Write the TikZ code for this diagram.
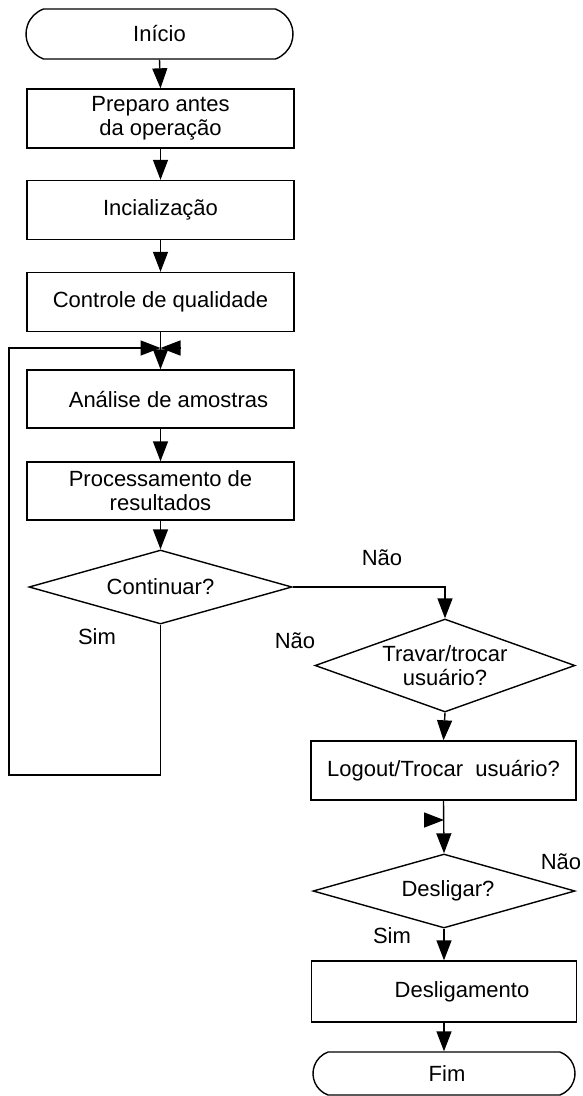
\documentclass[tikz,border=0pt]{standalone}
\usepackage{fontspec}
\setmainfont{Liberation Sans}
\usetikzlibrary{shapes.geometric,shapes.misc,arrows.meta}
\tikzset{
  base/.style={draw=black, line width=1.4pt, inner sep=0pt, align=center,
    font=\fontsize{22}{24}\selectfont},
  procbox/.style={base, rectangle, minimum width=267pt, minimum height=59pt},
  rbox/.style={base, rectangle, minimum width=265pt, minimum height=59pt},
  term/.style={base, rounded rectangle, rounded rectangle arc length=140, minimum height=50pt},
  decision/.style={base, diamond, aspect=3.5},
  lbl/.style={inner sep=0pt, font=\fontsize{22}{24}\selectfont},
  flow/.style={line width=1.4pt, -{Triangle[length=20pt,width=15pt]}},
  plain/.style={line width=1.4pt}
}
\begin{document}
\begin{tikzpicture}[x=1pt,y=-1pt]
\useasboundingbox (0,0) rectangle (583,1096);
% left column
\node[term, minimum width=267pt] (ini) at (159.5,34) {Início};
\node[procbox] (prep) at (160.5,118.5) {Preparo antes\\da operação};
\node[procbox] (inic) at (160.5,210) {Incialização};
\node[procbox] (ctrl) at (160.5,302) {Controle de qualidade};
\node[procbox, minimum height=58pt] (anal) at (160.5,399) {\hspace*{16pt}Análise de amostras};
\node[procbox, minimum height=58pt] (proc) at (160.5,491) {Processamento de\\resultados};
\node[decision, minimum width=263pt, minimum height=74pt] (cont) at (160.5,587) {Continuar?};
% right column
\node[decision, minimum width=260pt, minimum height=93pt, aspect=2.6] (trav) at (445,665.5) {Travar/trocar\\usuário?};
\node[rbox] (logo) at (443.5,770.5) {Logout/Trocar\ \ usuário?};
\node[decision, minimum width=262pt, minimum height=74pt] (desl) at (444,891) {\hspace*{8pt}Desligar?};
\node[rbox, minimum height=61pt] (dlgm) at (444,991.5) {\hspace*{36pt}Desligamento};
\node[term, minimum width=262pt, minimum height=43pt] (fim) at (444,1073.5) {\hspace*{6pt}Fim};
% labels
\node[lbl] (nao1) at (382,558) {Não};
\node[lbl] (nao2) at (295,641) {Não};
\node[lbl] (sim1) at (97,637) {Sim};
\node[lbl] (sim2) at (392,936) {Sim};
\node[lbl] (nao3) at (561,862) {Não};
% coordinates
\coordinate (mrg) at (160.5,348);
\coordinate (rtip) at (181,348);
\coordinate (loopb) at (9,775);
\coordinate (ltip) at (426,820);
\coordinate (lmid) at (444,820);
% connectors
\draw[flow] (ini.south) -- (prep.north);
\draw[flow] (prep.south) -- (inic.north);
\draw[flow] (inic.south) -- (ctrl.north);
\draw[flow] (ctrl.south) -- (anal.north);
\draw[flow] (anal.south) -- (proc.north);
\draw[flow] (proc.south) -- (cont.north);
\draw[flow] (cont.south) -- (cont.south |- loopb) -- (loopb) -- (loopb |- mrg) -- (mrg);
\draw[flow] (rtip) -- (mrg);
\draw[flow] (cont.east) -| (trav.north);
\draw[flow] (trav.south) -- (logo.north);
\draw[flow] (logo.south) -- (desl.north);
\draw[flow] (ltip) -- (lmid);
\draw[flow] (desl.south) -- (dlgm.north);
\draw[flow] (dlgm.south) -- (fim.north);
\end{tikzpicture}
\end{document}
